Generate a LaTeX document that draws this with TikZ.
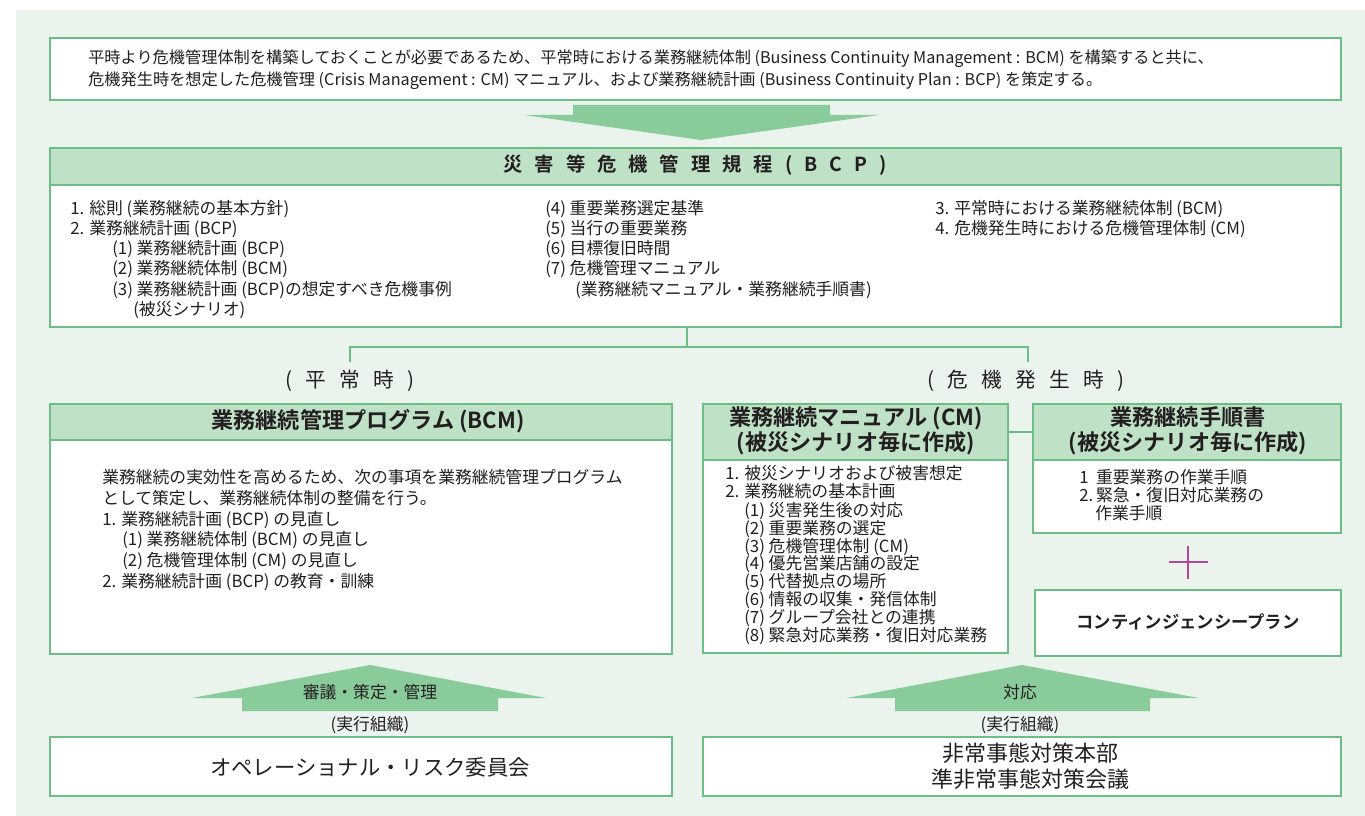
\documentclass[tikz,border=0pt]{standalone}
\usepackage{fontspec}
\setmainfont{Noto Sans CJK JP}[BoldFont={Noto Sans CJK JP Bold}]
\definecolor{bgc}{HTML}{EAF4EC}
\definecolor{bdr}{HTML}{6CBE86}
\definecolor{hdr}{HTML}{BFE2C6}
\definecolor{arr}{HTML}{8ACB9B}
\definecolor{plusc}{HTML}{B5479A}
\definecolor{ink}{HTML}{231F20}
\newdimen\pu \pu=0.75pt
\newcommand\gp[1][0.62em]{\hspace{#1}}
\begin{document}
\begin{tikzpicture}[x=0.75pt,y=-0.75pt,
  frame/.style={draw=bdr, line width=1.9pt, fill=white, anchor=north west, inner sep=0pt, outer sep=0pt},
  head/.style={frame, fill=hdr},
  txt/.style={inner sep=0pt, anchor=west, text height=.88em, text depth=.12em, text=ink, font=\fontsize{12.6}{15}\selectfont},
  ctxt/.style={txt, anchor=center},
  htxt/.style={ctxt, font=\bfseries\fontsize{16.6}{18}\selectfont},
  tree/.style={draw=bdr, line width=1.5pt},
  arrowshape/.style={fill=arr},
]
\useasboundingbox (0,0) rectangle (1365,816);
\fill[white] (0,0) rectangle (1365,816);
\fill[bgc] (16,10) rectangle (1365,816);

% top box
\node[frame, minimum width=1291\pu, minimum height=62\pu] (top) at (50,38) {};
\node[txt, font=\fontsize{12.15}{14}\selectfont] (top1) at (88,58) {平時より危機管理体制を構築しておくことが必要であるため、平常時における業務継続体制 (Business Continuity Management : BCM) を構築すると共に、};
\node[txt, font=\fontsize{12.15}{14}\selectfont] (top2) at (88,80) {危機発生時を想定した危機管理 (Crisis Management : CM) マニュアル、および業務継続計画 (Business Continuity Plan : BCP) を策定する。};

% down arrow
\fill[arrowshape] (573,105) -- (830,105) -- (830,115) -- (879,115) -- (701,140) -- (524,115) -- (573,115) -- cycle;

% BCP box
\node[frame, minimum width=1291\pu, minimum height=179\pu] (bcp) at (50,148) {};
\node[head, minimum width=1291\pu, minimum height=37\pu] (bcph) at (50,148) {};
\node[ctxt, font=\bfseries\fontsize{14.5}{16}\selectfont] (bcpt) at (695,166) {災\gp 害\gp 等\gp 危\gp 機\gp 管\gp 理\gp 規\gp 程\gp (\gp B\gp C\gp P\gp )};
\node[txt] (c11) at (70,209) {1. 総則 (業務継続の基本方針)};
\node[txt] (c12) at (70,229) {2. 業務継続計画 (BCP)};
\node[txt] (c13) at (112,249) {(1) 業務継続計画 (BCP)};
\node[txt] (c14) at (112,269) {(2) 業務継続体制 (BCM)};
\node[txt] (c15) at (112,290) {(3) 業務継続計画 (BCP)の想定すべき危機事例};
\node[txt] (c16) at (133,310) {(被災シナリオ)};
\node[txt] (c21) at (545,209) {(4) 重要業務選定基準};
\node[txt] (c22) at (545,229) {(5) 当行の重要業務};
\node[txt] (c23) at (545,249) {(6) 目標復旧時間};
\node[txt] (c24) at (545,269) {(7) 危機管理マニュアル};
\node[txt] (c25) at (575,290) {(業務継続マニュアル・業務継続手順書)};
\node[txt] (c31) at (935,209) {3. 平常時における業務継続体制 (BCM)};
\node[txt] (c32) at (935,229) {4. 危機発生時における危機管理体制 (CM)};

% tree
\coordinate (stem) at (687,347);
\coordinate (jL) at (350,347);
\coordinate (jR) at (1028,347);
\coordinate (dL) at (350,362);
\coordinate (dR) at (1028,362);
\draw[tree] (bcp.south -| stem) -- (stem);
\draw[tree] (dL) -- (jL) -- (jR) -- (dR);

\node[ctxt, font=\fontsize{15.5}{18}\selectfont] (lblN) at (350,382) {(\gp[0.65em]平\gp[0.65em]常\gp[0.65em]時\gp[0.65em])};
\node[ctxt, font=\fontsize{15.5}{18}\selectfont] (lblE) at (1026,382) {(\gp[0.65em]危\gp[0.65em]機\gp[0.65em]発\gp[0.65em]生\gp[0.65em]時\gp[0.65em])};

% BCM box
\node[frame, minimum width=622\pu, minimum height=250\pu] (bcm) at (50,404) {};
\node[head, minimum width=622\pu, minimum height=36\pu] (bcmh) at (50,404) {};
\node[htxt] (bcmt) at (368,423) {業務継続管理プログラム (BCM)};
\node[txt] (m1) at (102,478) {業務継続の実効性を高めるため、次の事項を業務継続管理プログラム};
\node[txt] (m2) at (102,499) {として策定し、業務継続体制の整備を行う。};
\node[txt] (m3) at (102,520) {1. 業務継続計画 (BCP) の見直し};
\node[txt] (m4) at (122,540) {(1) 業務継続体制 (BCM) の見直し};
\node[txt] (m5) at (122,561) {(2) 危機管理体制 (CM) の見直し};
\node[txt] (m6) at (102,582) {2. 業務継続計画 (BCP) の教育・訓練};

% CM box
\node[frame, minimum width=305\pu, minimum height=249\pu] (cm) at (703,404) {};
\node[head, minimum width=305\pu, minimum height=56\pu] (cmh) at (703,404) {};
\node[htxt] (cmt1) at (856,420) {業務継続マニュアル (CM)};
\node[htxt] (cmt2) at (856,445) {(被災シナリオ毎に作成)};
\node[txt] (n1) at (725,474) {1. 被災シナリオおよび被害想定};
\node[txt] (n2) at (725,492) {2. 業務継続の基本計画};
\node[txt] (n3) at (744,511) {(1) 災害発生後の対応};
\node[txt] (n4) at (744,529) {(2) 重要業務の選定};
\node[txt] (n5) at (744,547) {(3) 危機管理体制 (CM)};
\node[txt] (n6) at (744,564) {(4) 優先営業店舗の設定};
\node[txt] (n7) at (744,582) {(5) 代替拠点の場所};
\node[txt] (n8) at (744,600) {(6) 情報の収集・発信体制};
\node[txt] (n9) at (744,618) {(7) グループ会社との連携};
\node[txt] (n10) at (744,636) {(8) 緊急対応業務・復旧対応業務};

% procedures box
\node[frame, minimum width=308\pu, minimum height=129\pu] (tj) at (1033,404) {};
\node[head, minimum width=308\pu, minimum height=56\pu] (tjh) at (1033,404) {};
\node[htxt] (tjt1) at (1188,420) {業務継続手順書};
\node[htxt] (tjt2) at (1188,445) {(被災シナリオ毎に作成)};
\node[txt] (p1) at (1079,478) {\makebox[1em][l]{1}重要業務の作業手順};
\node[txt] (p2) at (1079,496) {\makebox[1em][l]{2.}緊急・復旧対応業務の};
\node[txt] (p3) at (1095,514) {作業手順};
\draw[tree] (cmh.east) -- (tjh.west);

% plus
\coordinate (plL) at (1169,562);
\coordinate (plR) at (1208,562);
\coordinate (plT) at (1188,546);
\coordinate (plB) at (1188,579);
\draw[plusc, line width=1.8pt] (plL) -- (plR) (plT) -- (plB);

% contingency
\node[frame, minimum width=306\pu, minimum height=66\pu] (cp) at (1035,590) {};
\node[ctxt, font=\bfseries\fontsize{13}{15}\selectfont] (cpt) at (1188,623) {コンティンジェンシープラン};

% bottom left
\fill[arrowshape] (242,711) -- (242,698) -- (192,698) -- (370,665) -- (546,698) -- (498,698) -- (498,711) -- cycle;
\node[ctxt] (al) at (370,693) {審議・策定・管理};
\node[ctxt] (el) at (370,725) {(実行組織)};
\node[frame, minimum width=622\pu, minimum height=59\pu] (orc) at (50,737) {};
\node[ctxt, font=\fontsize{16}{18}\selectfont] (orct) at (370,770) {オペレーショナル・リスク委員会};

% bottom right
\fill[arrowshape] (895,711) -- (895,698) -- (847,698) -- (1022,665) -- (1199,698) -- (1150,698) -- (1150,711) -- cycle;
\node[ctxt] (ar) at (1020,693) {対応};
\node[ctxt] (er) at (1020,725) {(実行組織)};
\node[frame, minimum width=638\pu, minimum height=59\pu] (hq) at (703,737) {};
\node[ctxt, font=\fontsize{16.5}{18}\selectfont] (hq1) at (1030,756) {非常事態対策本部};
\node[ctxt, font=\fontsize{16.5}{18}\selectfont] (hq2) at (1030,782) {準非常事態対策会議};
\end{tikzpicture}
\end{document}
